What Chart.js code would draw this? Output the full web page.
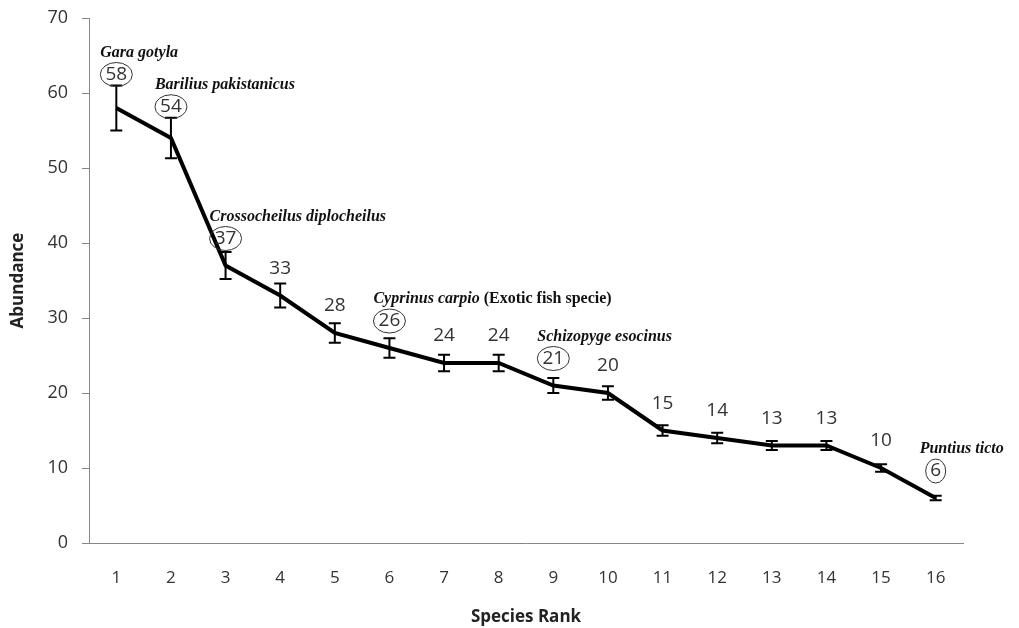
<!DOCTYPE html>
<html>
<head>
<meta charset="utf-8">
<script src="https://cdn.jsdelivr.net/npm/chart.js@4.4.1/dist/chart.umd.min.js"></script>
<style>
  html, body { margin: 0; padding: 0; background: #fff; }
  #wrap { width: 1019px; height: 628px; }
</style>
</head>
<body>
<div id="wrap"><canvas id="myChart" width="1019" height="628"></canvas></div>
<script>
// data
const ranks = ['1', '2', '3', '4', '5', '6', '7', '8', '9', '10', '11', '12', '13', '14', '15', '16'];
const abundance = [58, 54, 37, 33, 28, 26, 24, 24, 21, 20, 15, 14, 13, 13, 10, 6];
const errors = [3, 2.7, 1.8, 1.6, 1.3, 1.3, 1.1, 1.1, 1.0, 0.9, 0.7, 0.7, 0.6, 0.6, 0.5, 0.3];
const speciesNames = ['Gara gotyla', 'Barilius pakistanicus', 'Crossocheilus diplocheilus', null, null,
  'Cyprinus carpio', null, null, 'Schizopyge esocinus', null, null, null, null, null, null, 'Puntius ticto'];
const speciesNotes = [null, null, null, null, null, ' (Exotic fish specie)', null, null, null, null,
  null, null, null, null, null, null];
const yTicks = [0, 10, 20, 30, 40, 50, 60, 70];

const ctx = document.getElementById('myChart').getContext('2d');

// error bars, value labels, circles and species names
const annotate = {
    id: 'annotate',
    afterDatasetsDraw(chart) {
        const c = chart.ctx;
        const x = chart.scales.x;
        const y = chart.scales.y;
        c.save();
        for(let i = 0; i < abundance.length; i++) {
            const px = x.getPixelForValue(i);
            const py = y.getPixelForValue(abundance[i]);
            const top = y.getPixelForValue(abundance[i] + errors[i]);
            const bot = y.getPixelForValue(abundance[i] - errors[i]);

            c.strokeStyle = '#000';
            c.lineWidth = 2;
            c.beginPath();
            c.moveTo(px, top); c.lineTo(px, bot);
            c.moveTo(px - 6, top); c.lineTo(px + 6, top);
            c.moveTo(px - 6, bot); c.lineTo(px + 6, bot);
            c.stroke();

            const ly = py - Math.max(28, (py - top) + 12);
            c.font = '19px "Open Sans"';
            c.fillStyle = '#333';
            c.textAlign = 'center';
            c.textBaseline = 'middle';
            c.fillText(String(abundance[i]), px, ly + 1);

            if (speciesNames[i]) {
                c.strokeStyle = '#333';
                c.lineWidth = 1;
                c.beginPath();
                const rx = abundance[i] < 10 ? 10 : 16;
                c.ellipse(px, ly + 1, rx, 12, 0, 0, Math.PI * 2);
                c.stroke();

                c.textAlign = 'left';
                c.textBaseline = 'alphabetic';
                c.fillStyle = '#111';
                c.font = 'italic bold 16px "Liberation Serif"';
                const nx = px - 16;
                const ny = ly - 17;
                c.fillText(speciesNames[i], nx, ny);
                if (speciesNotes[i]) {
                    const w = c.measureText(speciesNames[i]).width;
                    c.font = 'bold 16px "Liberation Serif"';
                    c.fillText(speciesNotes[i], nx + w, ny);
                }
            }
        }
        c.restore();
    }
};

const chart = new Chart(ctx, {
    type: 'line',
    data: {
        labels: ranks,
        datasets: [
            {
                label: 'Abundance',
                data: abundance,
                borderColor: '#000',
                borderWidth: 4,
                pointRadius: 0,
                tension: 0,
                fill: false
            }
        ]
    },
    options: {
        responsive: false,
        animation: false,
        layout: { padding: { left: 0, right: 56, top: 18, bottom: 0 } },
        plugins: {
            legend: { display: false },
            tooltip: { enabled: false }
        },
        scales: {
            x: {
                offset: true,
                grid: { display: true, drawOnChartArea: false, drawTicks: false, color: 'rgba(0,0,0,0)' },
                border: { display: true, color: '#868686', width: 1 },
                ticks: { color: '#333', padding: 25, font: { family: '"Open Sans"', size: 17 } },
                title: { display: true, text: 'Species Rank', color: '#222',
                    font: { family: '"Open Sans"', size: 17, weight: 'bold' }, padding: { top: 4, bottom: 1 } },
                afterFit(scale) { scale.height = 85; }
            },
            y: {
                min: 0,
                max: 70,
                afterBuildTicks(scale) { scale.ticks = yTicks.map(v => ({ value: v })); },
                grid: { drawOnChartArea: false, drawTicks: true, tickLength: 7, color: '#868686' },
                border: { display: true, color: '#868686', width: 1 },
                ticks: { color: '#333', padding: 14, font: { family: '"Open Sans"', size: 18 } },
                title: { display: true, text: 'Abundance', color: '#222',
                    font: { family: '"Open Sans"', size: 17, weight: 'bold' }, padding: { top: 8, bottom: 4 } },
                afterFit(scale) {
                    scale.width = 89;
                    scale.paddingTop = 0;
                    scale.paddingBottom = 0;
                }
            }
        }
    },
    plugins: [annotate]
});
</script>
</body>
</html>
